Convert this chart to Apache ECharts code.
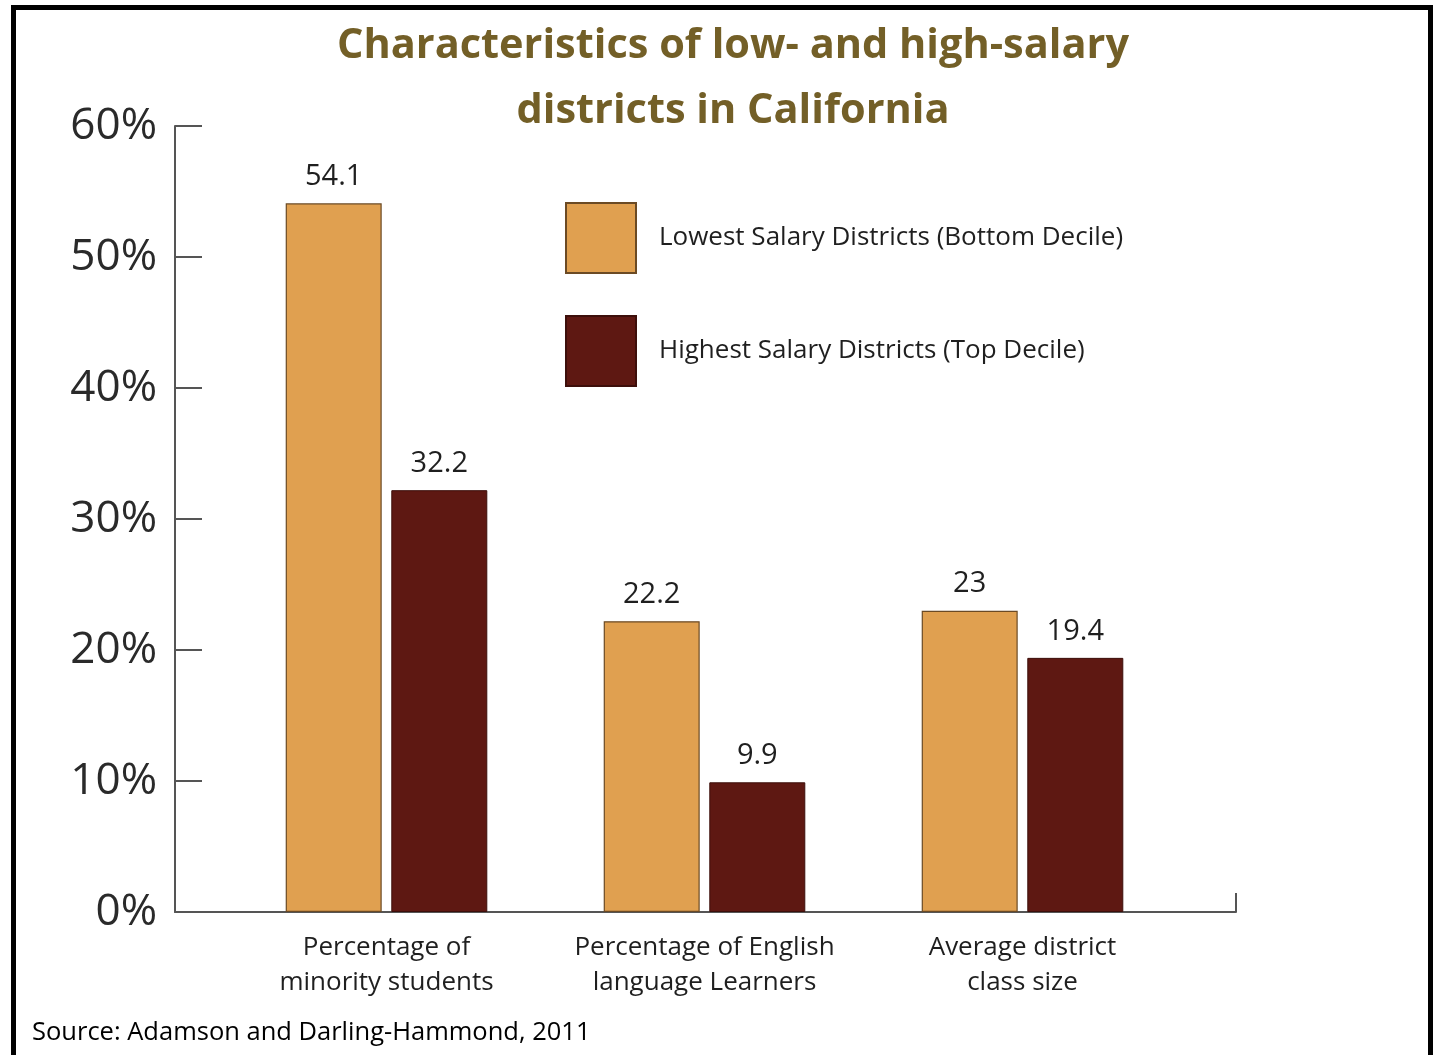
<!DOCTYPE html>
<html>
<head>
<meta charset="utf-8">
<title>Characteristics of low- and high-salary districts in California</title>
<script src="https://cdn.jsdelivr.net/npm/echarts@6/dist/echarts.min.js"></script>
<style>
  html, body { margin: 0; padding: 0; background: #ffffff; }
  #chart { width: 1437px; height: 1055px; }
</style>
</head>
<body>
<div id="chart"></div>
<script>
// Category labels along the x axis
const categories = [
  'Percentage of\nminority students',
  'Percentage of English\nlanguage Learners',
  'Average district\nclass size'
];
// Series names
const seriesNames = [
  'Lowest Salary Districts (Bottom Decile)',
  'Highest Salary Districts (Top Decile)'
];
// Values per category
const lowestSalary = [54.1, 22.2, 23];
const highestSalary = [32.2, 9.9, 19.4];
// Y axis range
const yMin = 0;
const yMax = 60;
const yStep = 10;

const titleText = 'Characteristics of low- and high-salary\ndistricts in California';
const sourceText = 'Source: Adamson and Darling-Hammond, 2011';

const bodyFont = '"Open Sans", "Noto Sans", sans-serif';
const axisColor = '#555555';
const textColor = '#1f1f1f';

const chart = echarts.init(document.getElementById('chart'), null, { renderer: 'canvas' });

const labelStyle = {
  show: true,
  position: 'top',
  distance: 12,
  fontFamily: bodyFont,
  fontSize: 29,
  color: textColor,
  formatter: p => String(p.value)
};

chart.setOption({
  backgroundColor: '#ffffff',
  animation: false,
  title: {
    text: titleText,
    left: 728,
    textAlign: 'center',
    top: 9,
    textStyle: {
      fontFamily: '"Open Sans", sans-serif',
      fontWeight: 'bold',
      fontSize: 41.5,
      lineHeight: 65,
      color: '#735F27'
    }
  },
  legend: {
    orient: 'vertical',
    left: 565,
    top: 202,
    padding: 0,
    itemWidth: 70,
    itemHeight: 70,
    itemGap: 41,
    icon: 'rect',
    selectedMode: false,
    textStyle: {
      fontFamily: bodyFont,
      fontSize: 26,
      color: textColor,
      padding: [0, 0, 0, 18]
    },
    data: seriesNames
  },
  grid: [
    { left: 227.5, width: 954, top: 126, bottom: 143, containLabel: false },
    { left: 175, width: 1061, top: 126, bottom: 143, containLabel: false }
  ],
  xAxis: [
    {
      type: 'category',
      gridIndex: 0,
      data: categories,
      axisLine: { show: false },
      axisTick: { show: false },
      axisLabel: {
        margin: 18,
        fontFamily: bodyFont,
        fontSize: 26,
        lineHeight: 35,
        color: textColor,
        interval: 0
      }
    },
    {
      // full-width baseline with an upturned tick at its right end
      type: 'value',
      gridIndex: 1,
      min: 0,
      max: 1,
      interval: 1,
      axisLine: { show: true, lineStyle: { color: axisColor, width: 2 } },
      axisTick: { show: true, inside: true, length: 19, lineStyle: { color: axisColor, width: 2 } },
      axisLabel: { show: false },
      splitLine: { show: false }
    }
  ],
  yAxis: [
    {
      type: 'value',
      gridIndex: 0,
      min: yMin,
      max: yMax,
      interval: yStep,
      offset: 52.5,
      axisLine: { show: true, lineStyle: { color: axisColor, width: 2 } },
      axisTick: { show: true, inside: true, length: 27, lineStyle: { color: axisColor, width: 2 } },
      axisLabel: {
        margin: 18,
        fontFamily: bodyFont,
        fontSize: 44,
        color: '#2a2a2a',
        verticalAlign: 'middle',
        padding: [12, 0, 0, 0],
        formatter: '{value}%'
      },
      splitLine: { show: false }
    },
    {
      type: 'value',
      gridIndex: 1,
      min: yMin,
      max: yMax,
      show: false
    }
  ],
  series: [
    {
      name: seriesNames[0],
      type: 'bar',
      xAxisIndex: 0,
      yAxisIndex: 0,
      data: lowestSalary,
      barWidth: 96,
      barGap: '10%',
      itemStyle: { color: '#E0A050', borderColor: '#6b4a24', borderWidth: 1.2 },
      label: labelStyle
    },
    {
      name: seriesNames[1],
      type: 'bar',
      xAxisIndex: 0,
      yAxisIndex: 0,
      data: highestSalary,
      barWidth: 96,
      barGap: '10%',
      itemStyle: { color: '#5E1812', borderColor: '#3d0f0b', borderWidth: 1 },
      label: labelStyle
    }
  ],
  graphic: [
    {
      type: 'rect',
      silent: true,
      shape: { x: 13.5, y: 7.5, width: 1417, height: 1100 },
      style: { fill: 'none', stroke: '#000000', lineWidth: 5 }
    },
    {
      type: 'text',
      left: 32,
      top: 1020,
      silent: true,
      style: {
        text: sourceText,
        fontFamily: '"Open Sans", sans-serif',
        fontSize: 25.5,
        fill: '#000000'
      }
    }
  ]
});
</script>
</body>
</html>
